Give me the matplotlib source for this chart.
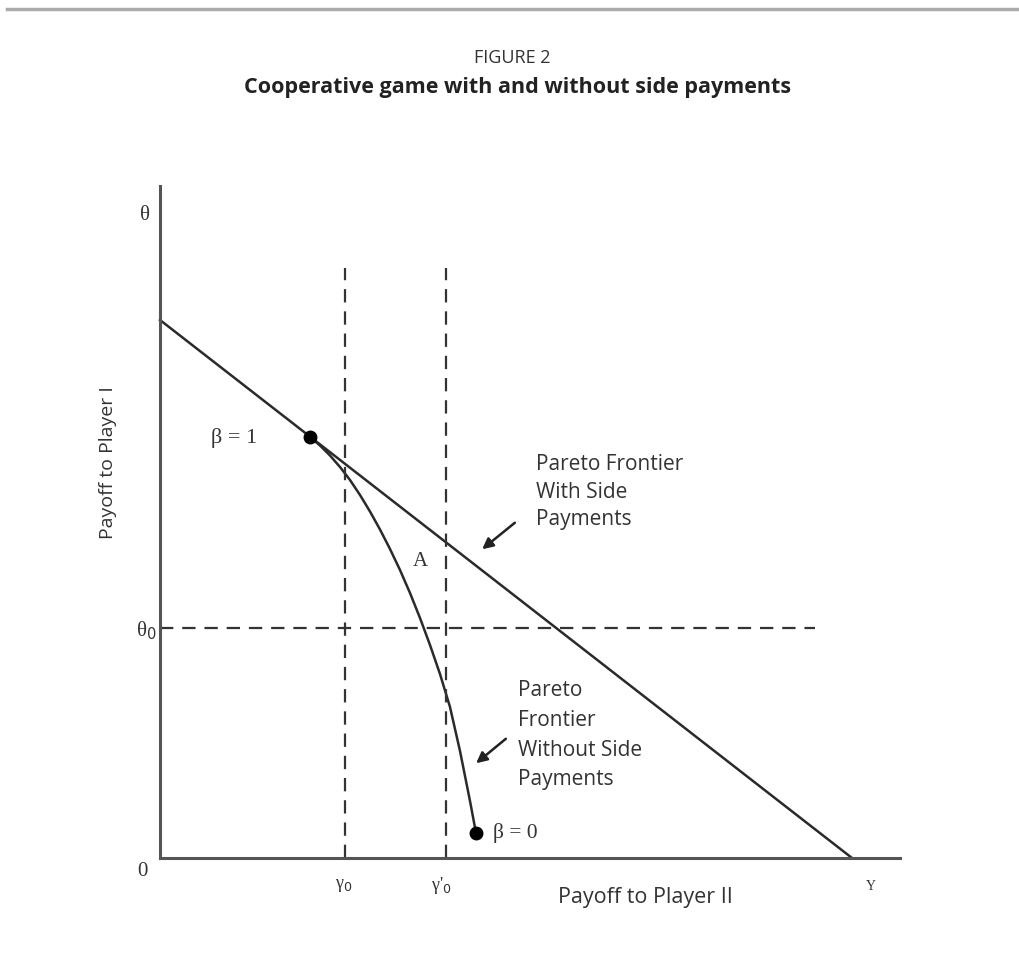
import matplotlib
matplotlib.use("Agg")
import matplotlib.pyplot as plt
from matplotlib.lines import Line2D

W, H = 1020, 969

# Data (in chart units: x = payoff to player II, y = payoff to player I)
frontier_side_x = [0, 692]
frontier_side_y = [538, 0]

frontier_noside_x = [150, 160, 170, 180, 190, 200, 210, 220, 230, 240, 250, 260, 270, 280, 290, 300, 310, 316]
frontier_noside_y = [421, 412.5, 402.5, 391, 378, 363, 346.5, 328.5, 309, 288, 265, 240, 213, 184, 151, 107, 57, 25]

gamma0 = 185
gamma0_prime = 286
theta0 = 230
dash_top = 590
dash_right = 655

x_tick_labels = ["0", "γ₀", "γ'₀", "Y"]
y_tick_labels = ["θ", "θ₀"]

fig = plt.figure(figsize=(W / 100, H / 100), dpi=100)
ax = fig.add_axes([160 / W, 1 - 858 / H, 740 / W, 672 / H])
ax.set_xlim(0, 740)
ax.set_ylim(0, 672)
for s in ["top", "right"]:
    ax.spines[s].set_visible(False)
for s in ["left", "bottom"]:
    ax.spines[s].set_color("#555555")
    ax.spines[s].set_linewidth(2.2)
ax.set_xticks([])
ax.set_yticks([])

lc = "#2a2a2a"
ax.plot(frontier_side_x, frontier_side_y, color=lc, lw=1.8, clip_on=False)
ax.plot(frontier_noside_x, frontier_noside_y, color=lc, lw=1.8, solid_joinstyle="round")
ax.plot([frontier_noside_x[0], frontier_noside_x[-1]],
        [frontier_noside_y[0], frontier_noside_y[-1]],
        "o", color="black", ms=9)

dash = dict(color="#333333", lw=1.6, dashes=(6, 4))
ax.plot([gamma0, gamma0], [0, dash_top], **dash)
ax.plot([gamma0_prime, gamma0_prime], [0, dash_top], **dash)
ax.plot([0, dash_right], [theta0, theta0], **dash)

serif = "Liberation Serif"
sans = "Open Sans"
tc = "#333333"

def ftext(x, y, s, **kw):
    fig.text(x / W, 1 - y / H, s, **kw)

# Title
ftext(512, 58, "FIGURE 2", family=sans, fontsize=13, ha="center", va="center", color=tc)
ftext(518, 87, "Cooperative game with and without side payments", family=sans,
      fontsize=15.5, fontweight="bold", ha="center", va="center", color="#222222")

# Axis labels
ftext(645, 898, "Payoff to Player II", family=sans, fontsize=15.5, ha="center", va="center", color=tc)
ftext(108, 463, "Payoff to Player I", family=sans, fontsize=14, ha="center", va="center",
      rotation=90, color=tc)

# Tick-like labels
ftext(145, 216, y_tick_labels[0], family=serif, fontsize=15, ha="center", va="center", color=tc)
ftext(146, 631, "θ$_0$", family=serif, fontsize=15, ha="center", va="center", color=tc)
ftext(142, 872, x_tick_labels[0], family=serif, fontsize=15, ha="center", va="center", color=tc)
ftext(344, 886, "γ$_0$", family=serif, fontsize=13, ha="center", va="center", color=tc)
ftext(441, 886, "γ'$_0$", family=serif, fontsize=13, ha="center", va="center", color=tc)
ftext(871, 886, x_tick_labels[3], family=serif, fontsize=10, ha="center", va="center", color=tc)

# Annotations
ftext(234, 438, "β = 1", family=serif, fontsize=16, ha="center", va="center", color=tc)
ftext(515, 833, "β = 0", family=serif, fontsize=15.5, ha="center", va="center", color=tc)
ftext(420, 562, "A", family=serif, fontsize=15, ha="center", va="center", color=tc)

for i, s in enumerate(["Pareto Frontier", "With Side", "Payments"]):
    ftext(536, 465 + 27 * i, s, family=sans, fontsize=15, ha="left", va="center", color=tc)

for i, s in enumerate(["Pareto", "Frontier", "Without Side", "Payments"]):
    ftext(518, 690 + 30 * i, s, family=sans, fontsize=15, ha="left", va="center", color=tc)

arrow = dict(arrowstyle="-|>", color="#222222", lw=1.8, mutation_scale=16)
ax.annotate("", xy=(320, 307), xytext=(357, 337), arrowprops=arrow)
ax.annotate("", xy=(314, 93), xytext=(348, 121), arrowprops=arrow)

# Top rule
fig.add_artist(Line2D([7 / W, 1.0], [1 - 9 / H, 1 - 9 / H], color="#aaaaaa", lw=2.5))

fig.savefig("out.png", dpi=100)
